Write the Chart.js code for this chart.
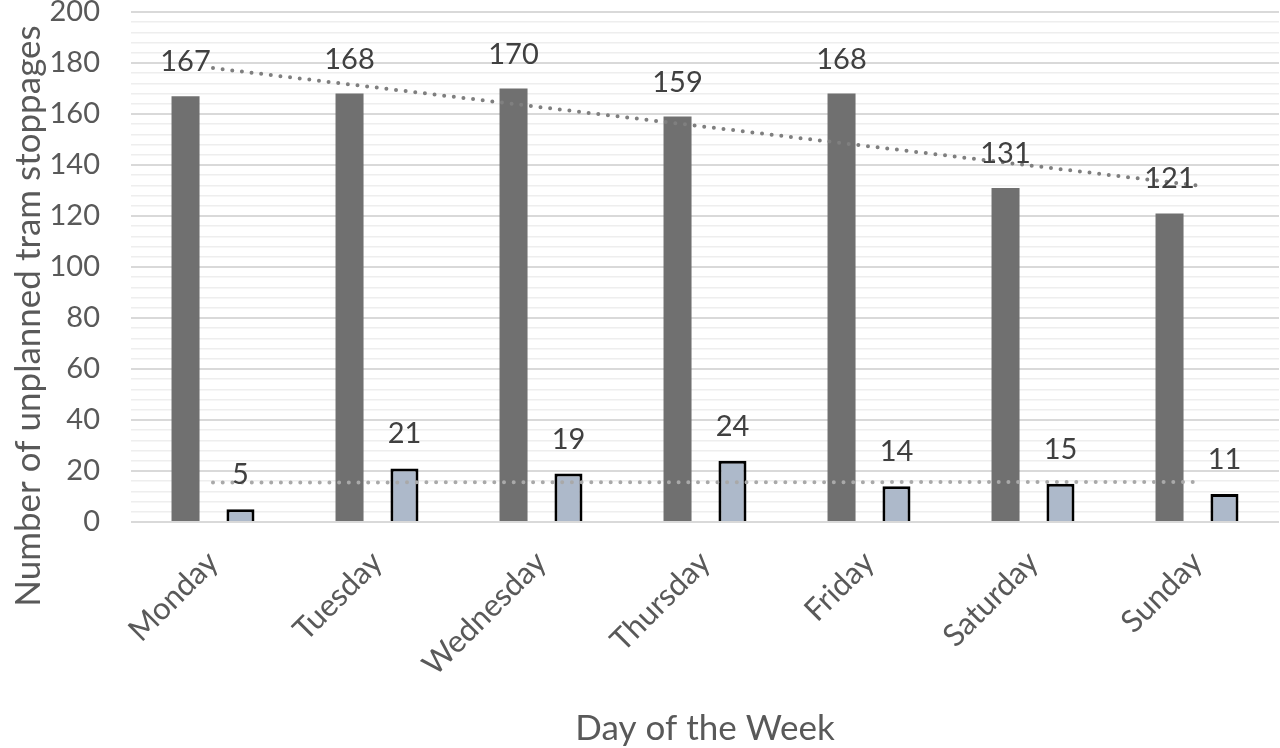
<!DOCTYPE html>
<html>
<head>
<meta charset="utf-8">
<script src="https://cdn.jsdelivr.net/npm/chart.js@4"></script>
<style>
  html, body { margin: 0; padding: 0; background: #fff; }
  #wrap { width: 1280px; height: 748px; position: relative; }
</style>
</head>
<body>
<div id="wrap"><canvas id="chart"></canvas></div>
<script>
// --- data ---
const days = ['Monday', 'Tuesday', 'Wednesday', 'Thursday', 'Friday', 'Saturday', 'Sunday'];
const grayValues = [167, 168, 170, 159, 168, 131, 121];
const blueValues = [5, 21, 19, 24, 14, 15, 11];
// trend lines (start / end only)
const grayTrend = [178, null, null, null, null, null, 132];
const blueTrend = [15.5, null, null, null, null, null, 15.7];

const yMin = 0;
const yMax = 200;
const minorStep = 4;
const majorStep = 20;

const xTitle = 'Day of the Week';
const yTitle = 'Number of unplanned tram stoppages';

const FONT = 'Lato, "Open Sans", sans-serif';
const labelColor = '#404040';
const axisColor = '#595959';

// value labels above bars + axis titles
const labelsPlugin = {
    id: 'barLabels',
    afterDatasetsDraw(chart) {
        const ctx = chart.ctx;
        ctx.save();
        ctx.font = '29px ' + FONT;
        ctx.fillStyle = labelColor;
        ctx.textAlign = 'center';
        ctx.textBaseline = 'alphabetic';
        [0, 1].forEach(di => {
            const meta = chart.getDatasetMeta(di);
            const values = chart.data.datasets[di].data;
            meta.data.forEach((bar, i) => {
                ctx.fillText(String(values[i]), bar.x, bar.y - 25);
            });
        });
        ctx.restore();
    },
    afterDraw(chart) {
        const ctx = chart.ctx;
        const area = chart.chartArea;
        ctx.save();
        ctx.font = '35px ' + FONT;
        ctx.fillStyle = axisColor;
        ctx.textAlign = 'center';
        ctx.textBaseline = 'alphabetic';
        ctx.fillText(xTitle, (area.left + area.right) / 2, 740);
        ctx.translate(40, 316);
        ctx.rotate(-Math.PI / 2);
        ctx.fillText(yTitle, 0, 0);
        ctx.restore();
    }
};

const ctx = document.getElementById('chart').getContext('2d');
new Chart(ctx, {
    type: 'bar',
    data: {
        labels: days,
        datasets: [
            {
                label: 'gray',
                data: grayValues,
                backgroundColor: '#707070',
                borderWidth: 0,
                categoryPercentage: 0.67,
                barPercentage: 0.51,
                order: 2
            },
            {
                label: 'blue',
                data: blueValues,
                backgroundColor: '#adb9ca',
                borderColor: '#000000',
                borderWidth: 3,
                categoryPercentage: 0.67,
                barPercentage: 0.51,
                order: 2
            },
            {
                type: 'line',
                label: 'gray trend',
                data: grayTrend,
                borderColor: '#7f7f7f',
                borderWidth: 4,
                borderDash: [0, 9.7],
                borderCapStyle: 'round',
                pointRadius: 0,
                spanGaps: true,
                order: 0
            },
            {
                type: 'line',
                label: 'blue trend',
                data: blueTrend,
                borderColor: '#a9a9a9',
                borderWidth: 4,
                borderDash: [0, 9.7],
                borderCapStyle: 'round',
                pointRadius: 0,
                spanGaps: true,
                order: 0
            }
        ]
    },
    options: {
        responsive: true,
        maintainAspectRatio: false,
        animation: false,
        layout: { padding: { top: 12, right: 1, left: 0, bottom: 0 } },
        plugins: {
            legend: { display: false },
            tooltip: { enabled: false }
        },
        scales: {
            x: {
                grid: { display: false, drawTicks: false },
                border: { display: false },
                ticks: {
                    color: axisColor,
                    font: { family: FONT, size: 31 },
                    minRotation: 45,
                    maxRotation: 45,
                    padding: 22
                },
                afterFit(scale) {
                    scale.height = 226;
                    scale.paddingLeft = 0;
                    scale.paddingRight = 0;
                }
            },
            y: {
                min: yMin,
                max: yMax,
                border: { display: false },
                grid: {
                    drawTicks: false,
                    color: c => (c.tick && c.tick.value % majorStep === 0) ? '#d9d9d9' : '#eeeeee',
                    lineWidth: c => (c.tick && c.tick.value % majorStep === 0) ? 2 : 1.5
                },
                ticks: {
                    stepSize: minorStep,
                    autoSkip: false,
                    color: axisColor,
                    font: { family: FONT, size: 29 },
                    padding: 31,
                    callback: v => (v % majorStep === 0 ? v : '')
                },
                afterFit(scale) {
                    scale.width = 131;
                    scale.paddingTop = 0;
                    scale.paddingBottom = 0;
                }
            }
        }
    },
    plugins: [labelsPlugin]
});
</script>
</body>
</html>
